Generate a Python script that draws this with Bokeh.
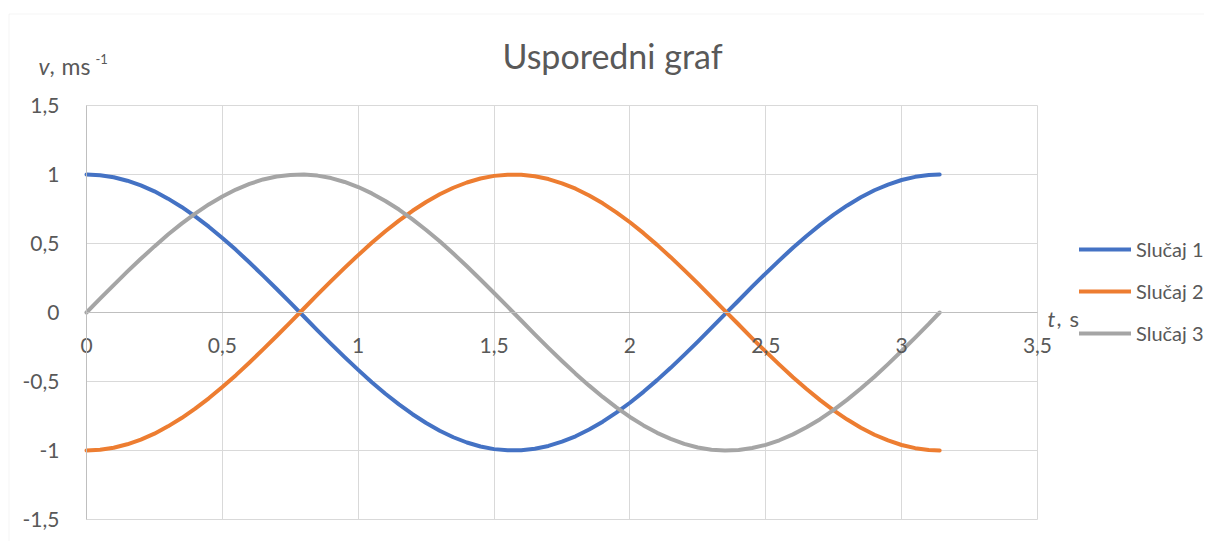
from bokeh.plotting import figure
from bokeh.models import (Label, Legend, LegendItem, FixedTicker, CustomJSTickFormatter,
                          Range1d, LinearAxis, Grid, BoxAnnotation)
from bokeh.embed import file_html
from bokeh.resources import INLINE

# ---- data ----
t = [0.0, 0.05, 0.1, 0.15, 0.2, 0.25, 0.3, 0.35, 0.4, 0.45, 0.5, 0.55, 0.6, 0.65, 0.7,
     0.75, 0.8, 0.85, 0.9, 0.95, 1.0, 1.05, 1.1, 1.15, 1.2, 1.25, 1.3, 1.35, 1.4, 1.45,
     1.5, 1.55, 1.6, 1.65, 1.7, 1.75, 1.8, 1.85, 1.9, 1.95, 2.0, 2.05, 2.1, 2.15, 2.2,
     2.25, 2.3, 2.35, 2.4, 2.45, 2.5, 2.55, 2.6, 2.65, 2.7, 2.75, 2.8, 2.85, 2.9, 2.95,
     3.0, 3.05, 3.1, 3.14]
slucaj1 = [1.0, 0.995, 0.98, 0.955, 0.921, 0.878, 0.825, 0.765, 0.697, 0.622, 0.54,
           0.454, 0.362, 0.267, 0.17, 0.071, -0.029, -0.129, -0.227, -0.323, -0.416,
           -0.505, -0.589, -0.666, -0.737, -0.801, -0.857, -0.904, -0.942, -0.971, -0.99,
           -0.999, -0.998, -0.987, -0.967, -0.936, -0.897, -0.848, -0.791, -0.726, -0.654,
           -0.575, -0.49, -0.401, -0.307, -0.211, -0.112, -0.012, 0.087, 0.187, 0.284,
           0.378, 0.469, 0.554, 0.635, 0.709, 0.776, 0.835, 0.886, 0.927, 0.96, 0.983,
           0.997, 1.0]
slucaj2 = [-1.0, -0.995, -0.98, -0.955, -0.921, -0.878, -0.825, -0.765, -0.697, -0.622,
           -0.54, -0.454, -0.362, -0.267, -0.17, -0.071, 0.029, 0.129, 0.227, 0.323, 0.416,
           0.505, 0.589, 0.666, 0.737, 0.801, 0.857, 0.904, 0.942, 0.971, 0.99,
           0.999, 0.998, 0.987, 0.967, 0.936, 0.897, 0.848, 0.791, 0.726, 0.654,
           0.575, 0.49, 0.401, 0.307, 0.211, 0.112, 0.012, -0.087, -0.187, -0.284,
           -0.378, -0.469, -0.554, -0.635, -0.709, -0.776, -0.835, -0.886, -0.927, -0.96,
           -0.983, -0.997, -1.0]
slucaj3 = [0.0, 0.1, 0.199, 0.296, 0.389, 0.479, 0.565, 0.644, 0.717, 0.783, 0.841,
           0.891, 0.932, 0.964, 0.985, 0.997, 1.0, 0.992, 0.974, 0.946, 0.909, 0.863,
           0.808, 0.746, 0.675, 0.598, 0.516, 0.427, 0.335, 0.239, 0.141, 0.042, -0.058,
           -0.158, -0.256, -0.351, -0.443, -0.53, -0.612, -0.688, -0.757, -0.818, -0.872,
           -0.916, -0.952, -0.978, -0.994, -1.0, -0.996, -0.982, -0.959, -0.926, -0.883,
           -0.832, -0.773, -0.706, -0.631, -0.551, -0.465, -0.374, -0.279, -0.182, -0.083,
           0.0]
series_names = ["Slučaj 1", "Slučaj 2", "Slučaj 3"]
series_colors = ["#4472C4", "#ED7D31", "#A5A5A5"]
x_ticks = [0, 0.5, 1, 1.5, 2, 2.5, 3, 3.5]
y_ticks = [-1.5, -1, -0.5, 0, 0.5, 1, 1.5]
x_bounds = (0, 3.5)
y_bounds = (-1.5, 1.5)
title_text = "Usporedni graf"

FONT = "Lato"
TXT = "#595959"
W, H = 1204, 541


# reference pixel -> data coordinate (used for text placement / view extent)
def dx(px):
    return (px - 86) / 271.71


def dy(py):
    return (312 - py) / 138.0


p = figure(width=W, height=H, output_backend="svg", toolbar_location=None,
           x_range=Range1d(dx(0), dx(W)), y_range=Range1d(dy(H), dy(0)),
           x_axis_type=None, y_axis_type=None,
           min_border_left=0, min_border_right=0, min_border_top=0, min_border_bottom=0)
p.outline_line_color = None
p.background_fill_color = "white"
p.border_fill_color = "white"

# outer chart border (left & top edges visible)
p.add_layout(BoxAnnotation(left=dx(8.5), right=dx(1400), top=dy(13.5), bottom=dy(900),
                           fill_alpha=0, line_color="#d9d9d9", line_width=1))

fmt = CustomJSTickFormatter(code="return String(tick).replace('.', ',');")

# grids limited to plot area
xgrid = Grid(dimension=0, ticker=FixedTicker(ticks=x_ticks), grid_line_color="#d9d9d9",
             bounds=x_bounds)
ygrid = Grid(dimension=1, ticker=FixedTicker(ticks=y_ticks), grid_line_color="#d9d9d9",
             bounds=y_bounds)
use_cross = True
try:
    xgrid.cross_bounds = y_bounds
    ygrid.cross_bounds = x_bounds
except AttributeError:
    use_cross = False
if use_cross:
    p.add_layout(xgrid)
    p.add_layout(ygrid)
else:
    p.segment(x0=x_ticks, x1=x_ticks, y0=[y_bounds[0]] * len(x_ticks),
              y1=[y_bounds[1]] * len(x_ticks), line_color="#d9d9d9", line_width=1)
    p.segment(x0=[x_bounds[0]] * len(y_ticks), x1=[x_bounds[1]] * len(y_ticks),
              y0=y_ticks, y1=y_ticks, line_color="#d9d9d9", line_width=1)

xaxis = LinearAxis(fixed_location=0, bounds=x_bounds, ticker=FixedTicker(ticks=x_ticks),
                   formatter=fmt)
yaxis = LinearAxis(fixed_location=0, bounds=y_bounds, ticker=FixedTicker(ticks=y_ticks),
                   formatter=fmt)
for ax in (xaxis, yaxis):
    ax.axis_line_color = "#bfbfbf"
    ax.axis_line_width = 1
    ax.major_tick_line_color = None
    ax.minor_tick_line_color = None
    ax.major_label_text_font = FONT
    ax.major_label_text_font_size = "21px"
    ax.major_label_text_color = TXT
xaxis.major_label_standoff = 19
yaxis.major_label_standoff = 21
p.add_layout(xaxis, "below")
p.add_layout(yaxis, "left")

renderers = []
for ys, c in zip([slucaj1, slucaj2, slucaj3], series_colors):
    r = p.line(t, ys, line_color=c, line_width=4, line_join="round", line_cap="round")
    renderers.append(r)

legend = Legend(items=[LegendItem(label=n, renderers=[r]) for n, r in zip(series_names, renderers)],
                location=(1079, H - 345), orientation="vertical",
                glyph_width=52, glyph_height=20, label_height=20, label_standoff=5,
                spacing=18, padding=0, margin=0, border_line_color=None,
                background_fill_alpha=0, label_text_font=FONT,
                label_text_font_size="20px", label_text_color=TXT)
p.add_layout(legend)


def txt(px, py, s, size="22px", style="normal", align="left"):
    p.add_layout(Label(x=dx(px), y=dy(py), text=s, text_font=FONT, text_font_style=style,
                       text_font_size=size, text_color=TXT, text_align=align,
                       text_baseline="alphabetic"))


txt(612, 55, title_text, size="34px", align="center")
# y-axis title: v, ms^-1
txt(38, 65, "v", style="italic", size="23px")
txt(49, 65, ",", size="23px")
txt(61, 65, "ms", size="23px")
txt(95, 58, "-1", size="13px")
# x-axis title: t, s
txt(1047, 318, "t", style="italic")
txt(1056, 318, ",")
txt(1069, 318, "s")

open("out.html", "w").write(file_html(p, INLINE))
